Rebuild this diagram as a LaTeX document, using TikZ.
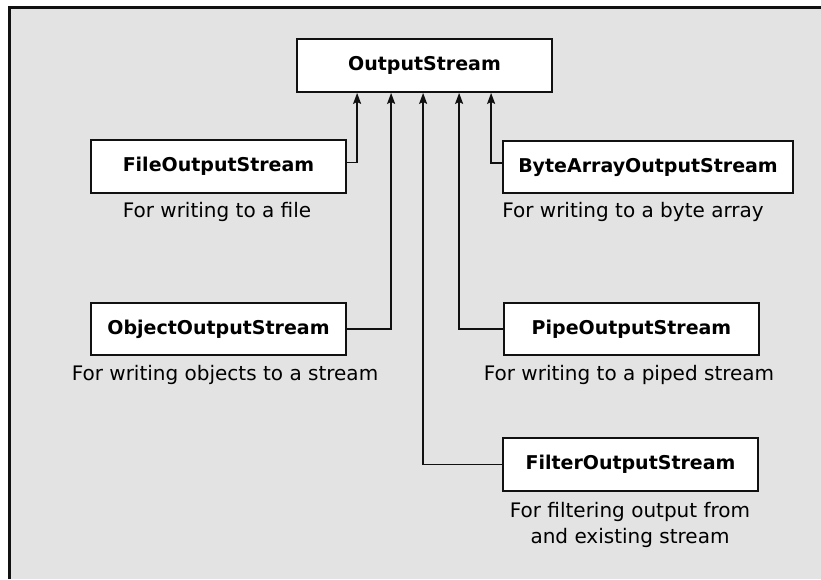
\documentclass[tikz,border=0pt]{standalone}
\usepackage{fontspec}
\setmainfont{DejaVu Sans}
\usetikzlibrary{arrows.meta}
\definecolor{bg}{HTML}{E3E3E3}
\definecolor{ln}{HTML}{111111}
\tikzset{
  cls/.style={draw=ln, line width=1.8pt, fill=white, minimum height=53pt, inner sep=0pt,
    font=\fontsize{19}{22}\selectfont\bfseries},
  captext/.style={inner sep=0pt, align=center, font=\fontsize{20}{26}\selectfont},
  arr/.style={draw=ln, line width=1.6pt, -{Stealth[length=11pt,width=8pt,inset=2pt]}},
}
\begin{document}
\begin{tikzpicture}[x=1pt,y=-1pt]
\useasboundingbox (0,0) rectangle (821,579);
\fill[bg] (9.5,7.5) rectangle (821,579);
\draw[ln, line width=2.2pt] (9.5,579) -- (9.5,7.5) -- (821,7.5);

\node[cls, minimum width=255pt] (out) at (424.5,65.5) {OutputStream};
\node[cls, minimum width=255pt] (file) at (218.5,166.5) {FileOutputStream};
\node[cls, minimum width=290pt, minimum height=52pt] (byte) at (648,167) {ByteArrayOutputStream};
\node[cls, minimum width=255pt, minimum height=52pt] (obj) at (218.5,329) {ObjectOutputStream};
\node[cls, minimum width=255pt, minimum height=52pt] (pipe) at (631.5,329) {PipeOutputStream};
\node[cls, minimum width=255pt] (filter) at (630.5,464.5) {FilterOutputStream};

\node[captext] (filecap) at (217,212) {For writing to a file};
\node[captext] (bytecap) at (633,212) {For writing to a byte array};
\node[captext] (objcap) at (225,375) {For writing objects to a stream};
\node[captext] (pipecap) at (629,375) {For writing to a piped stream};
\node[captext] (filtercap) at (630,525) {For filtering output from\\and existing stream};

\coordinate (t1) at ([xshift=61pt]out.south west);
\coordinate (t2) at ([xshift=95pt]out.south west);
\coordinate (t3) at ([xshift=127pt]out.south west);
\coordinate (t4) at ([xshift=163pt]out.south west);
\coordinate (t5) at ([xshift=195pt]out.south west);

\draw[arr] ([yshift=4pt]file.east) -| (t1);
\draw[arr] (obj.east) -| (t2);
\draw[arr] (filter.west) -| (t3);
\draw[arr] (pipe.west) -| (t4);
\draw[arr] ([yshift=4pt]byte.west) -| (t5);
\end{tikzpicture}
\end{document}
